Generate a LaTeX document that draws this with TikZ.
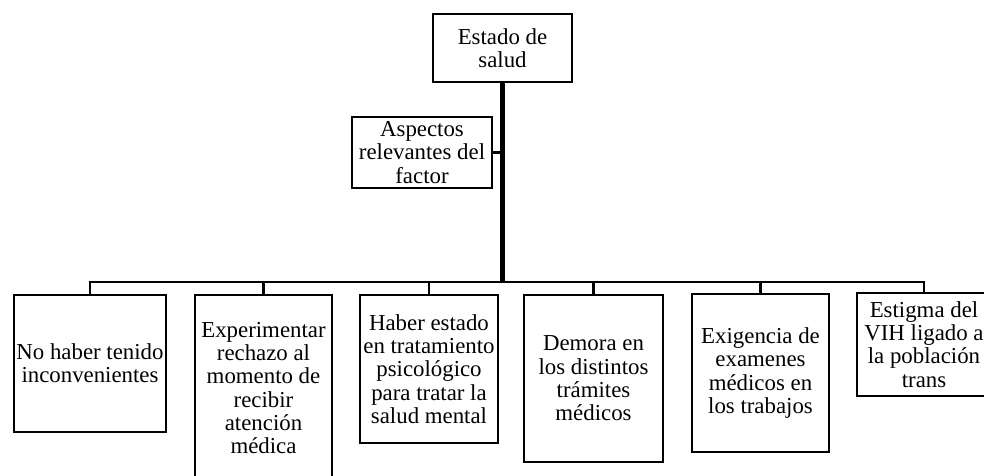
\documentclass[tikz,border=0pt]{standalone}
\usepackage{fontspec}
\setmainfont{Liberation Serif}
\usepackage{tikz}

\begin{document}
\begin{tikzpicture}[x=0.02cm, y=0.02cm]
\tikzstyle{every node}+=[inner sep=0pt]
\tikzstyle{box}=[draw=black, line width=1.5pt, align=center, font=\fontsize{13}{13.3}\selectfont]
\tikzstyle{link}=[black, line width=1.4pt]
\useasboundingbox (0,0) rectangle (984,-476);
\clip (0,0) rectangle (984,-476);
\node [box, minimum width=2.78cm, minimum height=1.36cm] (root) at (502.5,-48) {Estado de\\salud};
\node [box, minimum width=2.80cm, minimum height=1.42cm] (asp) at (422,-152.5) {Aspectos\\relevantes del\\factor};
\node [box, minimum width=3.04cm, minimum height=2.74cm] (b1) at (90,-363.5) {No haber tenido\\inconvenientes};
\node [box, minimum width=2.74cm, minimum height=3.72cm] (b2) at (263.5,-388) {Experimentar\\rechazo al\\momento de\\recibir\\atención\\médica};
\node [box, minimum width=2.76cm, minimum height=2.96cm] (b3) at (429,-369) {Haber estado\\en tratamiento\\psicológico\\para tratar la\\salud mental};
\node [box, minimum width=2.78cm, minimum height=3.34cm] (b4) at (593.5,-378.5) {Demora en\\los distintos\\trámites\\médicos};
\node [box, minimum width=2.74cm, minimum height=3.16cm] (b5) at (760.5,-373) {Exigencia de\\examenes\\médicos en\\los trabajos};
\node [box, minimum width=2.68cm, minimum height=2.06cm] (b6) at (924,-344.5) {Estigma del\\VIH ligado a\\la población\\trans};
\coordinate (bar) at (502.5,-282);
\draw [black, line width=2.8pt] (root.south) -- (bar);
\draw [link] (asp.east) -- (asp.east -| root.south);
\foreach \b in {b1,b2,b3,b4,b5,b6}
  \draw [link] (bar) -| (\b.north);
\end{tikzpicture}
\end{document}
